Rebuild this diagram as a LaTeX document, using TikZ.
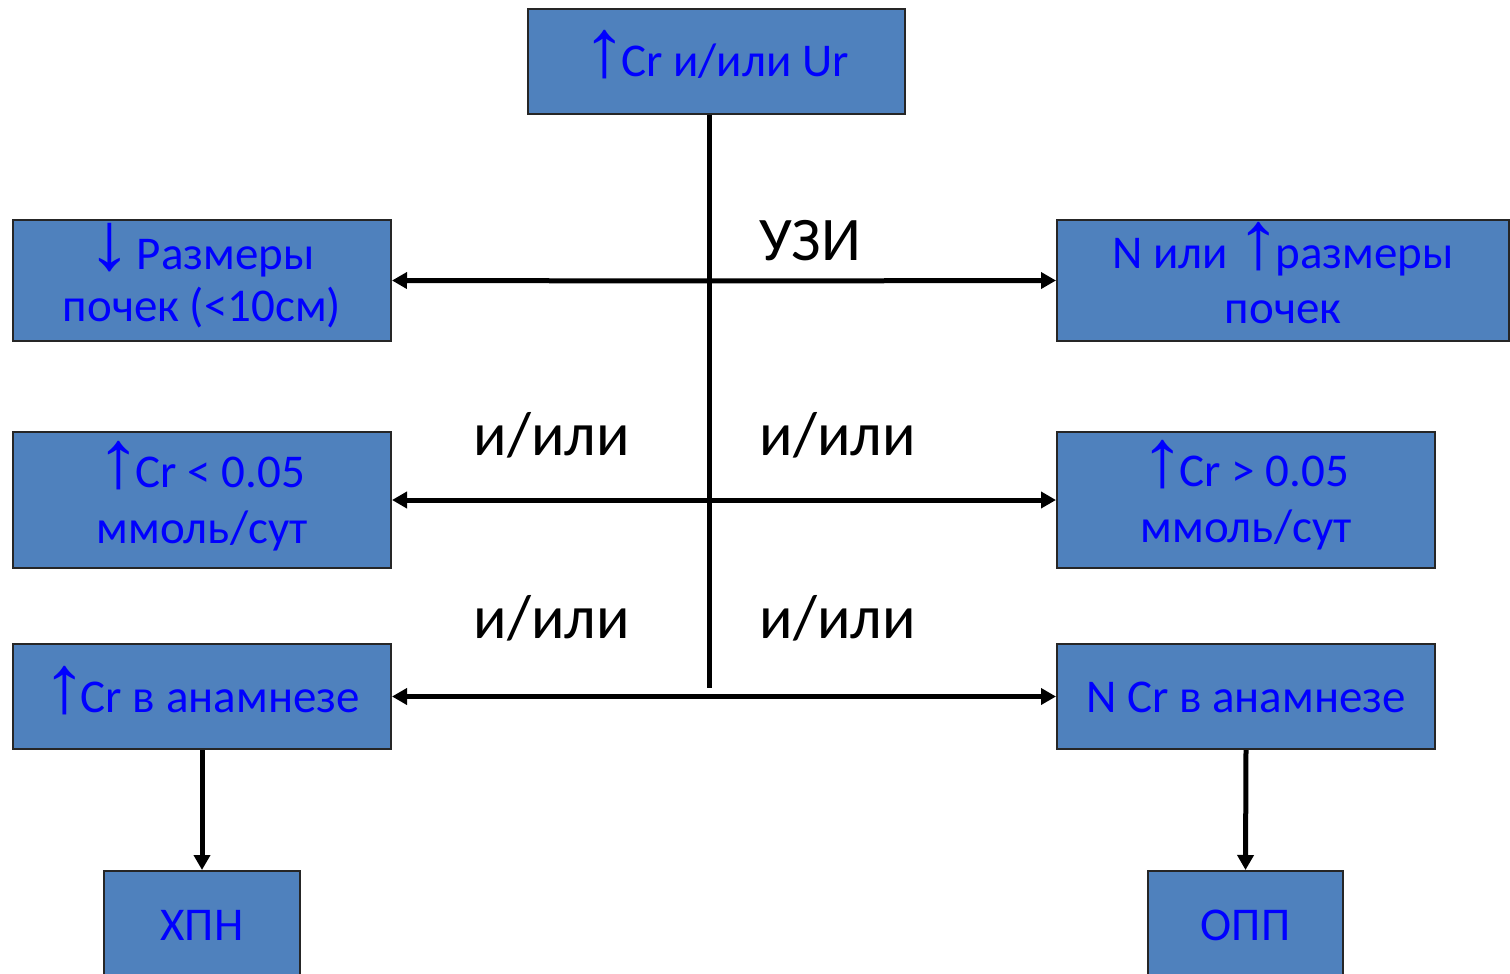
\documentclass[tikz,border=0pt]{standalone}
\usepackage{graphicx}
\usepackage{fontspec}
\setmainfont{Carlito}
\newfontfamily\arrfont{Liberation Sans}
\newcommand{\upar}{{\arrfont\kern-2pt\scalebox{1.9}[1.75]{↑}\kern-6pt}}
\newcommand{\dnar}{{\arrfont\kern-2pt\scalebox{1.9}[1.75]{↓}\kern-6pt}}
\usetikzlibrary{arrows.meta}
\definecolor{boxfill}{HTML}{4F81BD}
\definecolor{txtblue}{HTML}{0000FF}
\tikzset{
  box/.style={draw=black!85, line width=2pt, fill=boxfill, inner sep=0pt},
  btxt/.style={text=txtblue, anchor=base, inner sep=0pt, font=\fontsize{47}{50}\selectfont},
  conn/.style={line width=5pt, -{Triangle[length=15pt,width=16pt]}},
  lbl/.style={font=\fontsize{62}{70}\selectfont, text=black, anchor=base, inner sep=0pt}
}
\begin{document}
\begin{tikzpicture}[x=1pt,y=-1pt]
\useasboundingbox (0,0) rectangle (1510,974);
\begin{scope}
\clip (0,0) rectangle (1510,974);
\node[box, minimum width=377pt, minimum height=105pt] (top) at (716.5,61.5) {};
\node[box, minimum width=378pt, minimum height=121pt] (l1) at (202,280.5) {};
\node[box, minimum width=452pt, minimum height=121pt] (r1) at (1283,280.5) {};
\node[box, minimum width=378pt, minimum height=136pt] (l2) at (202,500) {};
\node[box, minimum width=378pt, minimum height=136pt] (r2) at (1246,500) {};
\node[box, minimum width=378pt, minimum height=105pt] (l3) at (202,696.5) {};
\node[box, minimum width=378pt, minimum height=105pt] (r3) at (1246,696.5) {};
\node[box, minimum width=196pt, minimum height=110pt, anchor=north] (xpn) at (202,870) {};
\node[box, minimum width=195pt, minimum height=110pt, anchor=north] (opp) at (1245.5,870) {};
\end{scope}
% texts
\node[btxt] (topt) at (716.5,77) {\upar Cr и/или Ur};
\node[btxt] (l1a) at (202,269) {\dnar{} Размеры};
\node[btxt] (l1b) at (202,321) {почек (<10см)};
\node[btxt] (r1a) at (1283,268) {N или \upar размеры};
\node[btxt] (r1b) at (1283,323) {почек};
\node[btxt] (l2a) at (202,487) {\upar Cr < 0.05};
\node[btxt] (l2b) at (202,543) {ммоль/сут};
\node[btxt] (r2a) at (1246,486) {\upar Cr > 0.05};
\node[btxt] (r2b) at (1246,542) {ммоль/сут};
\node[btxt] (l3t) at (202,712) {\upar Cr в анамнезе};
\node[btxt] (r3t) at (1246,712) {N Cr в анамнезе};
\node[btxt] (xpnt) at (202,940) {ХПН};
\node[btxt] (oppt) at (1245.5,940) {ОПП};
% connectors
\coordinate (vend) at (709,688);
\draw[line width=5pt] (top.south -| vend) -- (vend);
\draw[conn] (709,281) -- (l1.east);
\draw[conn] (709,281) -- (r1.west);
\draw[conn] (709,500) -- (l2.east);
\draw[conn] (709,500) -- (r2.west);
\draw[conn] (709,696.5) -- (l3.east);
\draw[conn] (709,696.5) -- (r3.west);
\draw[conn] (l3.south) -- (xpn.north);
\draw[conn] (r3.south) -- (opp.north);
% labels
\node[lbl] (uzi) at (810,260) {УЗИ};
\node[lbl] (a1) at (552,455) {и/или};
\node[lbl] (a2) at (838,455) {и/или};
\node[lbl] (a3) at (552,638) {и/или};
\node[lbl] (a4) at (838,638) {и/или};
\end{tikzpicture}
\end{document}
